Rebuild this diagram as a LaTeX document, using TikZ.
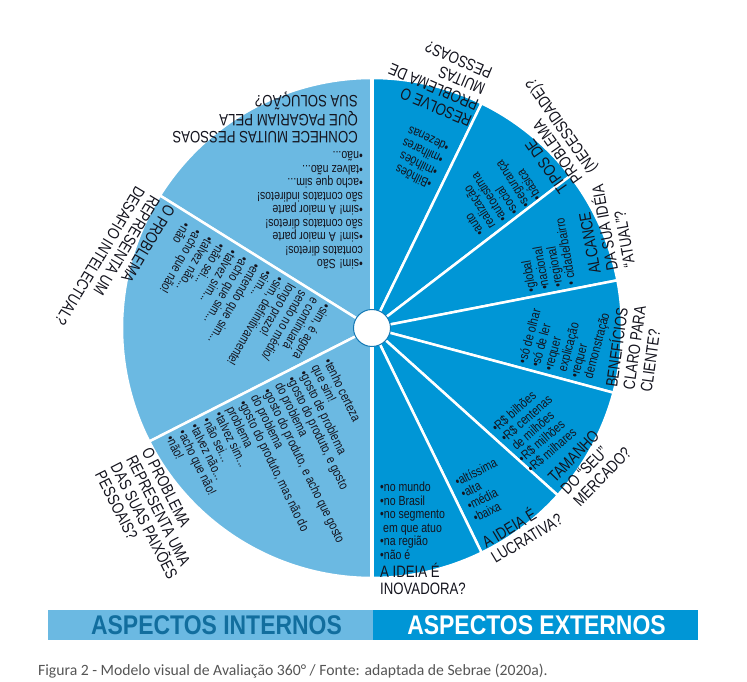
\documentclass[tikz,border=0pt]{standalone}
\usepackage{fontspec}
\usepackage{graphicx}
\setmainfont{Liberation Sans}
\newfontfamily\cnd[FakeStretch=0.8]{Liberation Sans}
\newfontfamily\barfont[FakeStretch=0.85]{Liberation Sans}
\newfontfamily\capfont{Carlito}
\definecolor{lblue}{RGB}{107,185,226}
\definecolor{dblue}{RGB}{0,150,214}
\definecolor{hubline}{RGB}{20,120,180}
\definecolor{ink}{RGB}{20,20,30}
\definecolor{barink}{RGB}{18,110,158}
\definecolor{capgray}{RGB}{85,85,85}
\newcommand\blk[1]{\vtop{\halign{##\hfil\cr#1\crcr}}}
\tikzset{
  lst/.style={font=\cnd\fontsize{13.2}{13.5}\selectfont, inner sep=0pt, anchor=base west, text=ink},
  ttl/.style={font=\cnd\fontsize{16.5}{17.5}\selectfont, inner sep=0pt, anchor=base west, text=ink},
  lsec/.style={fill=lblue, draw=white, line width=2.5pt},
  dsec/.style={fill=dblue, draw=white, line width=2.5pt},
  bartext/.style={font=\barfont\bfseries\fontsize{27}{30}\selectfont, inner sep=0pt}
}
\begin{document}
\begin{tikzpicture}[x=1pt,y=1pt]
\useasboundingbox (-372,-354) rectangle (375,328);
% light (internal) sectors
\foreach \a/\b in {90/148,148/207,207/270}
  \path[lsec] (0,0) -- (\a:250) arc[start angle=\a, end angle=\b, radius=250] -- cycle;
% dark (external) sectors
\foreach \a/\b in {64/90,37.5/64,11/37.5,-15/11,-42/-15,-64/-42,-90/-64}
  \path[dsec] (0,0) -- (\a:250) arc[start angle=\a, end angle=\b, radius=250] -- cycle;
\coordinate (top) at (0,252);
\coordinate (bot) at (0,-252);
\draw[white, line width=4.5pt] (top) -- (bot);
\node[circle, fill=white, draw=hubline, line width=1pt, minimum size=37pt, inner sep=0pt] (hub) at (0,0) {};

% ---- L1
\node[lst, rotate=180] (l1list) at (-9,68) {\blk{•sim! São\cr contatos diretos!\cr •sim! A maior parte\cr são contatos diretos!\cr •sim! A maior parte\cr são contatos indiretos!\cr •acho que sim...\cr •talvez não...\cr •não...}};
\node[ttl, rotate=180] (l1ttl) at (-14,196) {\blk{CONHECE MUITAS PESSOAS\cr QUE PAGARIAM PELA\cr SUA SOLUÇÃO?}};
% ---- L2
\node[ttl, rotate=239] (l2ttl) at (-206,125) {\blk{O PROBLEMA\cr REPRESENTA UM\cr DESAFIO INTELECTUAL?}};
\node[lst, rotate=240] (l2list) at (-48.6,25.2) {\blk{•sim, é agora\cr e continuará\cr sendo no médio/\cr longo prazo!\cr •sim, definitivamente!\cr •sim...\cr •entendo que sim...\cr •acho que sim...\cr •talvez sim...\cr •não sei...\cr •talvez não...\cr •acho que não!\cr •não}};
% ---- L3
\node[ttl, rotate=297] (l3ttl) at (-230.7,-122.9) {\blk{O PROBLEMA\cr REPRESENTA UMA\cr DAS SUAS PAIXÕES\cr PESSOAIS?}};
\node[lst, rotate=296] (l3list) at (-48.6,-33.5) {\blk{•tenho certeza\cr que sim!\cr •gosto de problema\cr •gosto do produto, e gosto\cr do problema\cr •gosto do produto, e acho que gosto\cr do problema\cr •gosto do produto, mas não do\cr problema\cr •talvez sim...\cr •não sei...\cr •talvez não...\cr •acho que não!\cr •não!}};
% ---- R1
\node[ttl, rotate=157] (r1ttl) at (101,211) {\blk{RESOLVE O\cr PROBLEMA DE\cr MUITAS\cr PESSOAS?}};
\node[lst, rotate=155] (r1list) at (61,147) {\blk{•Bilhões\cr •milhões\cr •milhares\cr •dezenas}};
% ---- R2
\node[ttl, rotate=125] (r2ttl) at (197,139.5) {\blk{TIPOS DE\cr PROBLEMA\cr (NECESSIDADE)?}};
\node[lst, rotate=122] (r2list) at (112.6,95) {\blk{•auto\cr realização\cr •autoestima\cr •social\cr •segurança\cr •básica}};
% ---- R3
\node[ttl, rotate=100] (r3ttl) at (229,55) {\blk{ALCANCE\cr DA SUA IDÉIA\cr “ATUAL”?}};
\node[lst, rotate=100] (r3list) at (164,36.5) {\blk{•global\cr •nacional\cr •regional\cr • cidade/bairro}};
% ---- R4
\node[ttl, rotate=82] (r4ttl) at (245,-60) {\blk{BENEFÍCIOS\cr CLARO PARA\cr CLIENTE?}};
\node[lst, rotate=75] (r4list) at (154.4,-36.7) {\blk{•só de olhar\cr •só de ler\cr •requer\cr \kern3pt explicação\cr •requer\cr \kern3pt demonstração}};
% ---- R5
\node[ttl, rotate=46] (r5ttl) at (183,-155.7) {\blk{TAMANHO\cr DO “SEU”\cr MERCADO?}};
\node[lst, rotate=41] (r5list) at (124.5,-104.6) {\blk{•R\$ bilhões\cr •R\$ centenas\cr \kern3pt de milhões\cr •R\$ milhões\cr •R\$ milhares}};
% ---- R6
\node[ttl, rotate=31] (r6ttl) at (114.5,-220.8) {\blk{A IDEIA É\cr LUCRATIVA?}};
\node[lst, rotate=27] (r6list) at (85.6,-158.6) {\blk{•altíssima\cr •alta\cr •média\cr •baixa}};
% ---- R7
\node[lst] (r7list) at (8,-164) {\blk{•no mundo\cr •no Brasil\cr •no segmento\cr \kern3pt em que atuo\cr •na região\cr •não é}};
\node[ttl] (r7ttl) at (8,-249) {\blk{A IDEIA É\cr INOVADORA?}};

% ---- bottom bar
\path[fill=lblue] (-324,-282) rectangle (1,-312);
\path[fill=dblue] (1,-282) rectangle (326,-312);
\node[bartext, text=barink] (intern) at (-155.5,-297) {ASPECTOS INTERNOS};
\node[bartext, text=white] (extern) at (164.5,-297) {ASPECTOS EXTERNOS};
% ---- caption
\node[font=\capfont\fontsize{15.7}{17}\selectfont, text=capgray, anchor=base west, inner sep=0pt] (caption) at (-334,-347) {Figura 2 - Modelo visual de Avaliação 360° / Fonte: adaptada de Sebrae (2020a).};
\end{tikzpicture}
\end{document}
